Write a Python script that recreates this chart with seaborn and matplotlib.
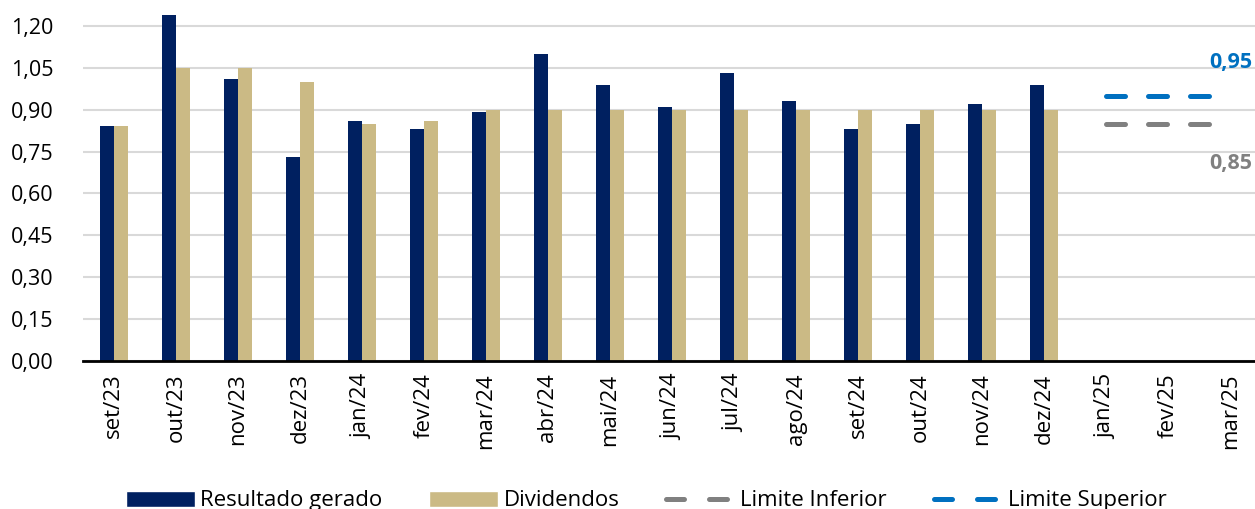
import numpy as np
import pandas as pd
import matplotlib
matplotlib.use("Agg")
import matplotlib.pyplot as plt
import seaborn as sns
from matplotlib.lines import Line2D
from matplotlib.patches import Patch

# data
meses = ["set/23", "out/23", "nov/23", "dez/23", "jan/24", "fev/24", "mar/24",
         "abr/24", "mai/24", "jun/24", "jul/24", "ago/24", "set/24", "out/24",
         "nov/24", "dez/24", "jan/25", "fev/25", "mar/25"]
resultado = [0.84, 1.24, 1.01, 0.73, 0.86, 0.83, 0.89, 1.10, 0.99, 0.91,
             1.03, 0.93, 0.83, 0.85, 0.92, 0.99, np.nan, np.nan, np.nan]
dividendos = [0.84, 1.05, 1.05, 1.00, 0.85, 0.86, 0.90, 0.90, 0.90, 0.90,
              0.90, 0.90, 0.90, 0.90, 0.90, 0.90, np.nan, np.nan, np.nan]
meses_guidance = ["jan/25", "fev/25", "mar/25"]
limite_inferior = [0.85, 0.85, 0.85]
limite_superior = [0.95, 0.95, 0.95]
yticks = [0.0, 0.15, 0.30, 0.45, 0.60, 0.75, 0.90, 1.05, 1.20]

NAVY = "#002060"
TAN = "#CBBA85"
GRAY = "#808080"
BLUE = "#0070C0"

sns.set_style("white")
plt.rcParams["font.family"] = ["Open Sans", "DejaVu Sans"]
plt.rcParams["text.color"] = "black"

df = pd.DataFrame({
    "mes": meses * 2,
    "valor": resultado + dividendos,
    "serie": ["Resultado gerado"] * len(meses) + ["Dividendos"] * len(meses),
})

fig = plt.figure(figsize=(12.55, 5.09), dpi=100)
ax = fig.add_axes([0.066, 0.291, 0.934, 0.709])

sns.barplot(data=df, x="mes", y="valor", hue="serie", order=meses,
            hue_order=["Resultado gerado", "Dividendos"],
            palette=[NAVY, TAN], width=0.45, gap=0, saturation=1,
            legend=False, ax=ax, linewidth=0)

# guidance lines
pos = [meses.index(m) for m in meses_guidance]
ax.plot(pos, limite_inferior, color=GRAY, lw=3.6, dashes=(3.8, 4.6),
        dash_capstyle="round", zorder=3)
ax.plot(pos, limite_superior, color=BLUE, lw=3.6, dashes=(3.8, 4.6),
        dash_capstyle="round", zorder=3)
ax.text(0.998, limite_superior[-1] + 0.12, "0,95", transform=ax.get_yaxis_transform(),
        ha="right", va="center", color=BLUE, fontsize=15.5, fontweight="bold")
ax.text(0.998, limite_inferior[-1] - 0.142, "0,85", transform=ax.get_yaxis_transform(),
        ha="right", va="center", color=GRAY, fontsize=15.5, fontweight="bold")

ax.set_ylim(0, 1.293)
ax.set_xlim(-0.5, len(meses) - 0.6)
ax.set_yticks(yticks)
ax.set_yticklabels([f"{v:.2f}".replace(".", ",") for v in yticks], fontsize=15.5)
ax.tick_params(axis="x", labelrotation=90, labelsize=16, pad=9, length=0,
               labelcolor="black")
ax.tick_params(axis="y", length=0, pad=21, labelcolor="black")
ax.set_xlabel("")
ax.set_ylabel("")
ax.yaxis.grid(True, color="#D9D9D9", lw=1.5)
ax.set_axisbelow(True)
for s in ["left", "right", "top"]:
    ax.spines[s].set_visible(False)
ax.spines["bottom"].set_color("black")
ax.spines["bottom"].set_linewidth(2)
ax.spines["bottom"].set_zorder(4)

handles = [
    Patch(facecolor=NAVY, label="Resultado gerado"),
    Patch(facecolor=TAN, label="Dividendos"),
    Line2D([0], [0], color=GRAY, lw=3.6, dashes=(3.6, 5.0), dash_capstyle="round",
           label="Limite Inferior"),
    Line2D([0], [0], color=BLUE, lw=3.6, dashes=(3.6, 5.0), dash_capstyle="round",
           label="Limite Superior"),
]
fig.legend(handles=handles, loc="center", bbox_to_anchor=(0.515, 0.016),
           ncol=4, frameon=False, prop={"size": 16},
           handlelength=3.1, handleheight=0.72,
           handletextpad=0.25, columnspacing=2.1)

fig.savefig("out.png", dpi=100)
